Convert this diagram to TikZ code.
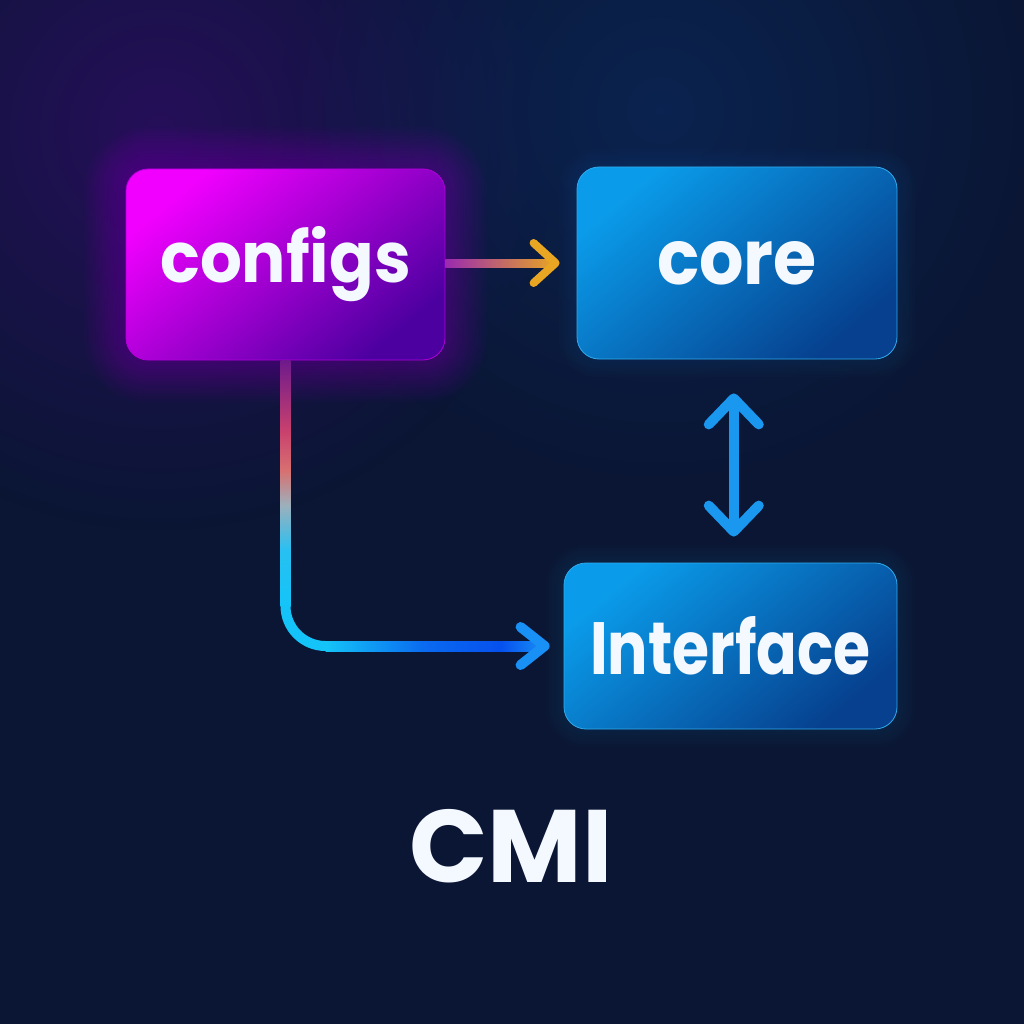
\documentclass[tikz,border=0pt]{standalone}
\usepackage{fontspec}
\setmainfont{Poppins}
\usetikzlibrary{calc,fadings}
\tikzfading[name=radfade, inner color=transparent!0, outer color=transparent!100]
\definecolor{bgC}{HTML}{0A1634}
\definecolor{glowP}{HTML}{2A0E60}
\definecolor{glowB}{HTML}{0A2E66}
\definecolor{magC}{HTML}{F200FF}
\definecolor{purC}{HTML}{4C00A0}
\definecolor{cfgGlow}{HTML}{B000E8}
\definecolor{blueTL}{HTML}{0A9CEA}
\definecolor{blueBR}{HTML}{06408E}
\definecolor{txtC}{HTML}{F4F8FF}
\definecolor{orgC}{HTML}{E8A622}
\definecolor{aP}{HTML}{9A2AB0}
\definecolor{c0}{HTML}{6E1A8C}
\definecolor{c1}{HTML}{C8406E}
\definecolor{c2}{HTML}{D87070}
\definecolor{c3}{HTML}{9CB0BC}
\definecolor{c4}{HTML}{28C0F2}
\definecolor{c5}{HTML}{14C4F8}
\definecolor{h1}{HTML}{0A6AF0}
\definecolor{h2}{HTML}{0650EE}
\definecolor{h3}{HTML}{1890F5}
\definecolor{dblC}{HTML}{1A98F0}
\pgfdeclareverticalshading{vgrad}{100bp}{color(0bp)=(c5); color(25bp)=(c5);
  color(36.4bp)=(c4); color(45.5bp)=(c3); color(52.6bp)=(c2); color(60.8bp)=(c1);
  color(75bp)=(c0); color(100bp)=(c0)}
\pgfdeclarehorizontalshading{hgrad}{100bp}{color(0bp)=(c5); color(25bp)=(c5);
  color(47.5bp)=(h1); color(65bp)=(h2); color(75bp)=(h3); color(100bp)=(h3)}
\pgfdeclarelayer{back}
\pgfsetlayers{back,main}
\tikzset{
  box/.style={rounded corners=22pt, inner sep=0pt, text=txtC, font=\bfseries},
  magbox/.style={box, top color=magC, bottom color=purC, shading angle=40,
    draw=magC!60!purC, line width=0.8pt},
  bluebox/.style={box, top color=blueTL, bottom color=blueBR, shading angle=40,
    draw=blueTL!85!white, line width=0.8pt},
  chev/.style={line width=#1, line cap=round, line join=round},
}
\begin{document}
\begin{tikzpicture}[x=1pt,y=-1pt]
\useasboundingbox (0,0) rectangle (1024,1024);
\node[magbox, minimum width=319pt, minimum height=191pt] (configs) at (285.5,264.5)
  {\raisebox{-3pt}{\scalebox{0.94}[1]{\fontsize{70}{70}\selectfont configs}}};
\node[bluebox, minimum width=320pt, minimum height=192pt] (core) at (737,263)
  {\raisebox{-4pt}{\scalebox{0.92}[1]{\fontsize{76}{76}\selectfont core}}};
\node[bluebox, minimum width=333pt, minimum height=166pt] (interface) at (730.5,646)
  {\scalebox{0.81}[1]{\fontsize{74}{74}\selectfont Interface}};
\node[text=txtC, font=\bfseries\fontsize{103}{103}\selectfont, inner sep=0pt] (cmi) at (511,846) {CMI};
\begin{pgfonlayer}{back}
  \fill[bgC] (0,0) rectangle (1024,1024);
  \fill[glowP, path fading=radfade, opacity=0.85] (160,130) circle (400);
  \fill[glowB, path fading=radfade, opacity=0.55] (660,110) circle (380);
  \foreach \r in {3,6,...,42}{
    \fill[cfgGlow, opacity=0.025, rounded corners=22+\r]
      ($(configs.north west)+(-\r,-\r)$) rectangle ($(configs.south east)+(\r,\r)$);
  }
  \foreach \r in {3,6,...,18}{
    \fill[blueTL, opacity=0.015, rounded corners=22+\r]
      ($(core.north west)+(-\r,-\r)$) rectangle ($(core.south east)+(\r,\r)$);
    \fill[blueTL, opacity=0.015, rounded corners=22+\r]
      ($(interface.north west)+(-\r,-\r)$) rectangle ($(interface.south east)+(\r,\r)$);
  }
\end{pgfonlayer}
% configs -> core
\coordinate (ha) at ($(configs.east)+(0,-1.5)$);
\coordinate (hb) at ($(core.west)+(-21,0)$);
\shade[left color=aP, right color=orgC] ($(ha)+(0,-4)$) rectangle ($(hb)+(0,4)$);
\draw[chev=8, orgC] ($(hb)+(-22,-20)$) -- (hb) -- ($(hb)+(-22,20)$);
% configs -> interface
\coordinate (L0) at (configs.south);
\coordinate (Lc) at (configs.south |- interface.west);
\coordinate (L2) at ($(interface.west)+(-19,0)$);
\coordinate (v5) at ($(Lc)+(0,-40)$);
\coordinate (w0) at ($(Lc)+(40,0)$);
\draw[line width=10, c5, rounded corners=40] ($(v5)+(0,-2)$) -- (Lc) -- ($(w0)+(2,0)$);
\shade[shading=vgrad] ($(L0)+(-5,0)$) rectangle ($(v5)+(5,0)$);
\shade[shading=hgrad] ($(w0)+(0,-5)$) rectangle ($(L2)+(0,5)$);
\draw[chev=10, h3] ($(L2)+(-24,-19)$) -- (L2) -- ($(L2)+(-24,19)$);
% core <-> interface
\coordinate (dm) at ($(core.south)!0.5!(interface.north)$);
\coordinate (d1) at ($(dm |- core.south)+(0,39)$);
\coordinate (d2) at ($(dm |- interface.north)+(0,-31)$);
\draw[line width=10, dblC] (d1) -- (d2);
\draw[chev=10, dblC] ($(d1)+(-25,26)$) -- (d1) -- ($(d1)+(25,26)$);
\draw[chev=10, dblC] ($(d2)+(-25,-26)$) -- (d2) -- ($(d2)+(25,-26)$);
\end{tikzpicture}
\end{document}
